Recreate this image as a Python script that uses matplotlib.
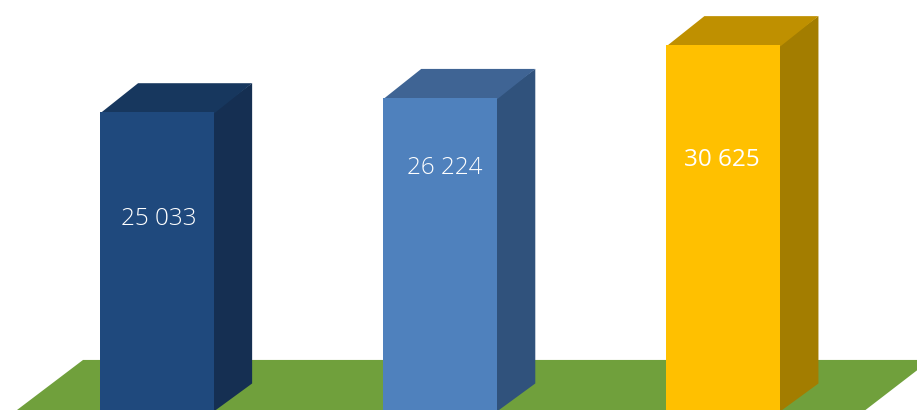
import numpy as np
import matplotlib
matplotlib.use('Agg')
import matplotlib.pyplot as plt

# values on the bars
categories = [0, 1, 2]
values = [25033, 26224, 30625]
value_labels = ['25 033', '26 224', '30 625']

front_colors = ['#1F497D', '#4F81BD', '#FFC000']
top_colors = ['#17375E', '#3F6494', '#BF9000']
side_colors = ['#152F52', '#30527C', '#A37D00']

W, H = 917, 410
bar_w = 114 / 283
depth_x = 38 / 283
px_per_unit = 0.01198
depth_y = 29 / px_per_unit
seam = 0.006  # side and top run a little under the front, no light line between them

# the extra half pixel stops 4.1 * 100 being cut down to 409
fig = plt.figure(figsize=((W + 0.5) / 100, (H + 0.5) / 100), dpi=100)
ax = fig.add_axes([0, 0, 1, 1])
ax.set_xlim(-157 / 283, (W - 157) / 283)
y_low = 2.5 / px_per_unit
ax.set_ylim(y_low, y_low + H / px_per_unit)
ax.axis('off')

# green floor, given in axes fractions
floor = [(83 / W, 50 / H), (1, 50 / H), (1, 40 / H), (865 / W, 0), (17 / W, 0)]
ax.add_patch(plt.Polygon(floor, closed=True, transform=ax.transAxes, color='#70A03C', lw=0, zorder=1))

for x, v, cf, ct, cs in zip(categories, values, front_colors, top_colors, side_colors):
    l, r = x - bar_w / 2, x + bar_w / 2
    ax.fill([r - seam, r + depth_x, r + depth_x, r - seam], [0, depth_y, v + depth_y, v], color=cs, lw=0, zorder=2)
    ax.fill([l, r, r + depth_x, l + depth_x], [v - 100, v - 100, v + depth_y, v + depth_y], color=ct, lw=0, zorder=2)
    ax.bar(x, v, width=bar_w, color=cf, lw=0, zorder=3)

label_y = [16170, 20420, 21090]
label_x = [0.007, 0.016, -0.007]
label_weight = ['light', 'light', 'normal']
for x, dx, y, lab, w in zip(categories, label_x, label_y, value_labels, label_weight):
    ax.text(x + dx, y, lab, color='white', fontsize=17.5, family='Open Sans',
            fontweight=w, ha='center', va='center', zorder=4)

fig.savefig('out.png', dpi=100)
